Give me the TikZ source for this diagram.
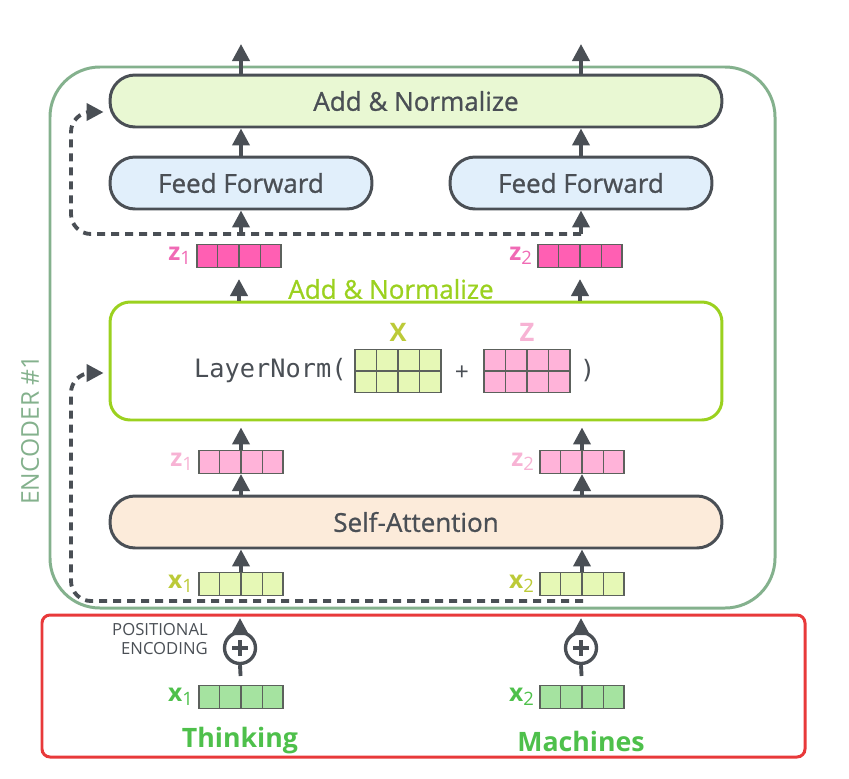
\documentclass[tikz,border=0pt]{standalone}
\usepackage{fontspec}
\setmainfont{Open Sans}
\setmonofont{DejaVu Sans Mono}
\newfontfamily\semi[FakeBold=0.9]{Open Sans}
\usepackage{tikz}
\usetikzlibrary{calc,arrows.meta,positioning}
\definecolor{ink}{HTML}{4A4F55}
\definecolor{encc}{HTML}{84B18D}
\definecolor{redc}{HTML}{E8393A}
\definecolor{addfill}{HTML}{E9F8D3}
\definecolor{fffill}{HTML}{E1EFFB}
\definecolor{safill}{HTML}{FCEBDA}
\definecolor{lngreen}{HTML}{9BD11F}
\definecolor{olive}{HTML}{BCCA38}
\definecolor{xfill}{HTML}{E6F8B6}
\definecolor{zfill}{HTML}{FFB3D9}
\definecolor{zlab}{HTML}{F7B3D4}
\definecolor{zdark}{HTML}{FF5FB3}
\definecolor{zdlab}{HTML}{F06AB5}
\definecolor{xpfill}{HTML}{A5E3A0}
\definecolor{wgreen}{HTML}{4EC04B}
\definecolor{cellc}{HTML}{5C615C}
\newcommand{\vname}[2]{{\bfseries #1}\raisebox{-0.3ex}{\fontsize{10.5}{10}\selectfont #2}}
\tikzset{
  ar/.style={-{Triangle[length=3.4mm,width=3.4mm]},line width=2.2pt,ink},
  res/.style={line width=2.2pt,ink,dash pattern=on 1.6mm off 1.2mm,rounded corners=4mm},
  box/.style={draw=ink,line width=1.7pt,rounded corners=5mm,minimum width=12.24cm,minimum height=1.04cm,text=ink,font=\semi\fontsize{14.8}{16}\selectfont},
  vec/.style={draw=cellc,line width=0.6pt,minimum width=1.68cm,minimum height=0.46cm,inner sep=0pt},
  cell/.style={cellc,line width=0.6pt},
  lab/.style={left=0.5mm,inner sep=1.5pt,font=\fontsize{14}{14}\selectfont},
  pe/.style={circle,draw=ink,line width=1.9pt,minimum size=0.62cm,inner sep=0pt}
}
\begin{document}
\begin{tikzpicture}[x=0.02cm,y=-0.02cm]
\useasboundingbox (0,0) rectangle (849,778);
\draw[encc,line width=1.7pt,rounded corners=1cm] (50,67) rectangle (775,608);
\draw[redc,line width=1.7pt,rounded corners=1.6mm] (42,615) rectangle (805,757);
\node[rotate=90,text=encc,font=\fontsize{14}{16}\selectfont] (enclab) at (30,430) {ENCODER \#1};

\node[box,fill=addfill] (addtop) at (416,101) {Add \& Normalize};
\node[box,fill=fffill,minimum width=5.24cm] (ff1) at (241,183) {Feed Forward};
\node[box,fill=fffill,minimum width=5.24cm] (ff2) at (581,183) {Feed Forward};
\node[box,draw=lngreen,fill=white,minimum height=2.36cm,rounded corners=4mm] (ln) at (416,361) {};
\node[text=lngreen,font=\semi\fontsize{14.8}{16}\selectfont] (lnlab) at (391,289) {Add \& Normalize};
\node[box,fill=safill] (sa) at (416,522) {Self-Attention};

\node[vec,fill=xfill,minimum width=1.72cm,minimum height=0.86cm] (X) at (398,371) {};
\node[vec,fill=zfill,minimum width=1.72cm,minimum height=0.86cm] (Z) at (527,371) {};
\node[left=1pt of X,text=ink,font=\ttfamily\fontsize{14.4}{16}\selectfont] (lnf) {LayerNorm(};
\node[text=ink,font=\fontsize{14}{16}\selectfont] (plus) at (462,373) {+};
\node[right=2pt of Z,text=ink,font=\ttfamily\fontsize{14.4}{16}\selectfont] (rpar) {)};
\node[above=0.3mm of X,text=olive,font=\bfseries\fontsize{14.5}{16}\selectfont] (Xlab) {X};
\node[above=0.3mm of Z,text=zlab,font=\bfseries\fontsize{14.5}{16}\selectfont] (Zlab) {Z};

\node[vec,fill=zdark] (zd1) at (239,256) {};
\node[vec,fill=zdark] (zd2) at (580,256) {};
\node[vec,fill=zfill] (zl1) at (241,462) {};
\node[vec,fill=zfill] (zl2) at (582,462) {};
\node[vec,fill=xfill] (xe1) at (241,584) {};
\node[vec,fill=xfill] (xe2) at (582,584) {};
\node[vec,fill=xpfill] (xp1) at (241,697) {};
\node[vec,fill=xpfill] (xp2) at (582,697) {};
\foreach \v in {zd1,zd2,zl1,zl2,xe1,xe2,xp1,xp2,X,Z}
  \foreach \i in {1,2,3}
    \draw[cell] ($(\v.south west)!\i/4!(\v.south east)$) -- ($(\v.north west)!\i/4!(\v.north east)$);
\foreach \v in {X,Z} \draw[cell] (\v.west) -- (\v.east);

\node[lab,text=zdlab,left=0.5mm of zd1] {\vname{z}{1}};
\node[lab,text=zdlab,left=0.5mm of zd2] {\vname{z}{2}};
\node[lab,text=zlab,left=0.5mm of zl1] {\vname{z}{1}};
\node[lab,text=zlab,left=0.5mm of zl2] {\vname{z}{2}};
\node[lab,text=olive,left=0.5mm of xe1] {\vname{x}{1}};
\node[lab,text=olive,left=0.5mm of xe2] {\vname{x}{2}};
\node[lab,text=wgreen,left=0.5mm of xp1] {\vname{x}{1}};
\node[lab,text=wgreen,left=0.5mm of xp2] {\vname{x}{2}};

\node[pe] (pe1) at (240,648) {};
\node[pe] (pe2) at (581,648) {};
\foreach \p in {pe1,pe2} {
  \draw[ink,line width=2pt] ($(\p.center)+(-8,0)$) -- ($(\p.center)+(8,0)$);
  \draw[ink,line width=2pt] ($(\p.center)+(0,-8)$) -- ($(\p.center)+(0,8)$);
}
\node[anchor=east,align=right,text=ink,font=\fontsize{9.5}{10.4}\selectfont] (pelab) at (214,639) {POSITIONAL\\ENCODING};
\node[text=wgreen,font=\bfseries\fontsize{15.2}{18}\selectfont] (w1) at (240,741) {Thinking};
\node[text=wgreen,font=\bfseries\fontsize{15.2}{18}\selectfont] (w2) at (581,741) {Machines};

\coordinate (o1) at (241,44);
\coordinate (o2) at (581,44);
\coordinate (r1) at (241,234);
\coordinate (r2) at (581,234);
\coordinate (i1) at (240,618);
\coordinate (i2) at (581,618);
\coordinate (d1) at (583,601);
\draw[ar] (addtop.north -| o1) -- (o1);
\draw[ar] (addtop.north -| o2) -- (o2);
\draw[ar] (ff1.north) -- (ff1.north |- addtop.south);
\draw[ar] (ff2.north) -- (ff2.north |- addtop.south);
\draw[ar] (r1) -- (ff1.south);
\draw[ar] (r2) -- (ff2.south);
\draw[ar,shorten >=2.2mm] (zd1 |- ln.north) -- (zd1.south);
\draw[ar,shorten >=2.2mm] (zd2 |- ln.north) -- (zd2.south);
\draw[ar,shorten >=1.2mm] (zl1.north) -- (zl1.north |- ln.south);
\draw[ar,shorten >=1.2mm] (zl2.north) -- (zl2.north |- ln.south);
\draw[ar] (sa.north -| zl1) -- (zl1.south);
\draw[ar] (sa.north -| zl2) -- (zl2.south);
\draw[ar] (xe1.north) -- (xe1.north |- sa.south);
\draw[ar] (xe2.north) -- (xe2.north |- sa.south);
\draw[ink,line width=2.2pt,shorten <=1.8mm] (xp1.north) -- (pe1.south);
\draw[ink,line width=2.2pt,shorten <=1.8mm] (xp2.north) -- (pe2.south);
\draw[ar] (pe1.north) -- (i1);
\draw[ar] (pe2.north) -- (i2);

\draw[res,-{Triangle[length=3.4mm,width=3.4mm]},shorten >=1mm] (r2) -- (71,234) -- (71,112) -- ([yshift=-2.2mm]addtop.west);
\draw[res,-{Triangle[length=3.4mm,width=3.4mm]},shorten >=1mm] (d1) -- (71,601) -- (71,373) -- ([yshift=-2.4mm]ln.west);
\end{tikzpicture}
\end{document}
